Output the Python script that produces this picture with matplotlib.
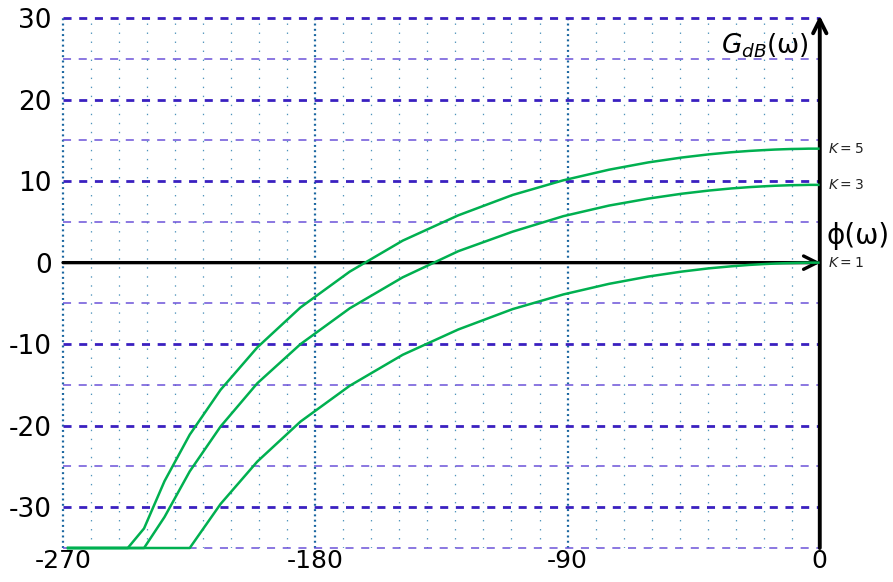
import matplotlib.pyplot as plt

plt.rcParams['lines.scale_dashes'] = False
plt.rcParams['axes.unicode_minus'] = False

# phase (deg) of the sampled points, shared by the three curves
phase = [-268.2, -267.7, -267.1, -266.3, -265.4, -264.2, -262.7, -260.8, -258.4, -255.4,
         -251.7, -246.9, -241.1, -233.8, -224.8, -213.8, -200.7, -185.3, -167.7, -148.8,
         -129.0, -109.6, -91.5, -75.2, -61.1, -49.3, -39.6, -31.6, -25.2, -20.1,
         -16.0, -12.7, -10.1, -8.0, -6.4, -5.1, -4.0, -3.2, -2.5, -2.0,
         -1.6, -1.3, -1.0, -0.8, -0.6, -0.5]

# gain in dB, clipped at the bottom of the chart
gain_k1 = [-35.0, -35.0, -35.0, -35.0, -35.0, -35.0, -35.0, -35.0, -35.0, -35.0,
           -35.0, -35.0, -35.0, -35.0, -35.0, -29.6, -24.4, -19.5, -15.1, -11.3,
           -8.2, -5.7, -3.9, -2.6, -1.7, -1.1, -0.7, -0.45, -0.28, -0.18,
           -0.11, -0.07, -0.05, -0.03, -0.02, -0.01, 0.0, 0.0, 0.0, 0.0,
           0.0, 0.0, 0.0, 0.0, 0.0, 0.0]
gain_k3 = [-35.0, -35.0, -35.0, -35.0, -35.0, -35.0, -35.0, -35.0, -35.0, -35.0,
           -35.0, -35.0, -35.0, -31.2, -25.6, -20.1, -14.8, -10.0, -5.6, -1.8,
           1.4, 3.8, 5.7, 7.0, 7.86, 8.45, 8.84, 9.10, 9.26, 9.36,
           9.43, 9.47, 9.50, 9.51, 9.52, 9.53, 9.54, 9.54, 9.54, 9.54,
           9.54, 9.54, 9.54, 9.54, 9.54, 9.54]
gain_k5 = [-35.0, -35.0, -35.0, -35.0, -35.0, -35.0, -35.0, -35.0, -35.0, -35.0,
           -35.0, -35.0, -32.6, -26.8, -21.1, -15.6, -10.4, -5.5, -1.1, 2.7,
           5.8, 8.3, 10.1, 11.4, 12.3, 12.89, 13.28, 13.54, 13.70, 13.80,
           13.87, 13.91, 13.94, 13.95, 13.96, 13.97, 13.98, 13.98, 13.98, 13.98,
           13.98, 13.98, 13.98, 13.98, 13.98, 13.98]

curves = [(gain_k5, '$K = 5$'), (gain_k3, '$K = 3$'), (gain_k1, '$K = 1$')]

xticks = [-270, -180, -90, 0]
yticks = [-30, -20, -10, 0, 10, 20, 30]

fig = plt.figure(figsize=(8.93, 5.82), dpi=100)
ax = fig.add_axes([0.0706, 0.0584, 0.8474, 0.9106])
ax.set_xlim(-270, 0)
ax.set_ylim(-35, 30)

# grid: vertical dotted every 10 deg, horizontal dashed every 5 dB
for x in range(-260, 0, 10):
    if x % 90 == 0:
        ax.axvline(x, color='#1a66a0', lw=1.6, dashes=(1.4, 2.4), zorder=1)
    else:
        ax.axvline(x, color='#4f94bb', lw=0.9, dashes=(1.0, 5.5), zorder=1)
ax.axvline(-270, color='#1a66a0', lw=1.6, dashes=(1.4, 2.4), zorder=1, clip_on=False)
for y in range(-35, 31, 5):
    if y == 0:
        continue
    if y % 10 == 0:
        ax.axhline(y, color='#3a20c0', lw=2.0, dashes=(5.8, 5.5), zorder=1, clip_on=False)
    else:
        ax.axhline(y, color='#6b52d8', lw=1.1, dashes=(5.8, 5.5), zorder=1, clip_on=False)

for g, lab in curves:
    ax.plot(phase, g, color='#00b050', lw=1.8, zorder=4, clip_on=False)
    ax.text(3, g[-1], lab, fontsize=10, va='center', ha='left', color='#222222')

# axes drawn as arrows
ax.annotate('', xy=(0, 30.3), xytext=(0, -35), annotation_clip=False,
            arrowprops=dict(arrowstyle='->', lw=2.8, color='k', mutation_scale=24,
                            shrinkA=0, shrinkB=0), zorder=3)
ax.annotate('', xy=(0.3, 0), xytext=(-270, 0), annotation_clip=False,
            arrowprops=dict(arrowstyle='->', lw=2.4, color='k', mutation_scale=24,
                            shrinkA=0, shrinkB=0), zorder=3)

ax.text(-4, 26.6, '$G_{dB}$(ω)', fontsize=19, ha='right', va='center')
ax.text(2.5, 3.3, 'ϕ(ω)', fontsize=20, ha='left', va='center')

for s in ax.spines.values():
    s.set_visible(False)
ax.set_xticks(xticks)
ax.set_yticks(yticks)
ax.tick_params(axis='y', length=0, labelsize=19, pad=8)
ax.tick_params(axis='x', length=0, labelsize=18, pad=1)

fig.savefig('out.png', dpi=100)
